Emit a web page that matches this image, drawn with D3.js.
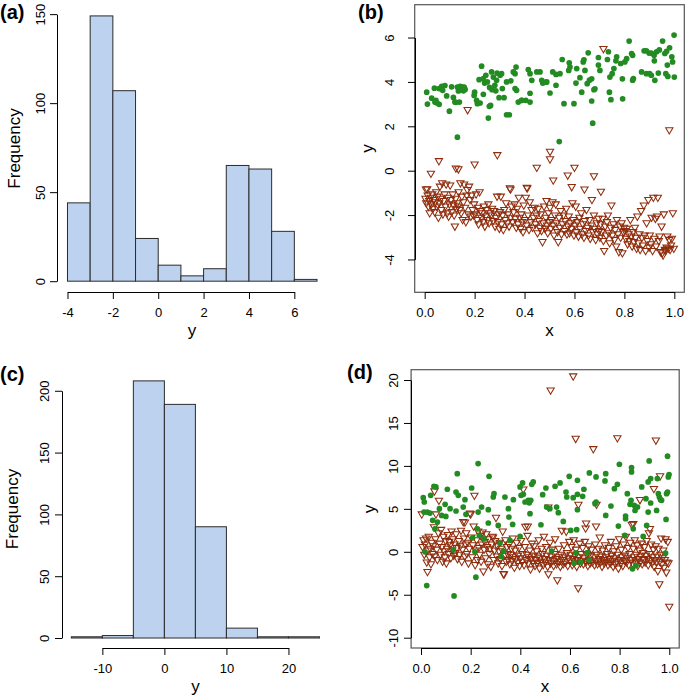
<!DOCTYPE html>
<html><head><meta charset="utf-8">
<script src="https://cdn.jsdelivr.net/npm/d3@7"></script>
<style>body{margin:0;background:#fff}svg text{font-family:"Liberation Sans",Arial,Helvetica,sans-serif}</style>
</head><body><svg id="chart" width="685" height="697"></svg>
<script>
// ---------- data ----------
const histABreaks = [-4,-3,-2,-1,0,1,2,3,4,5,6,7];
const histACounts = [44,149,107,24,9,3,7,65,63,28,1];
const histAXTicks = [-4,-2,0,2,4,6];
const histAYTicks = [0,50,100,150];

const histCBreaks = [-15,-10,-5,0,5,10,15,20,25];
const histCCounts = [1,2,208,189,90,8,1,1];
const histCXTicks = [-10,0,10,20];
const histCYTicks = [0,50,100,150,200];

const scatterXTicks = [0,0.2,0.4,0.6,0.8,1.0];
const scatterBYTicks = [-4,-2,0,2,4,6];
const scatterDYTicks = [-10,-5,0,5,10,15,20];

const bGreen = [[0.008,3.54],[0.011,3.0],[0.028,3.27],[0.039,3.72],[0.041,3.09],[0.045,3.17],[0.05,3.05],[0.058,2.99],[0.058,3.7],[0.068,3.8],[0.072,3.62],[0.081,3.84],[0.088,3.37],[0.099,2.68],[0.108,3.78],[0.115,3.3],[0.121,3.09],[0.125,3.08],[0.131,1.51],[0.131,3.77],[0.135,3.59],[0.139,3.09],[0.142,3.8],[0.148,3.65],[0.152,3.77],[0.155,3.6],[0.158,3.77],[0.162,3.66],[0.2,3.54],[0.198,3.39],[0.208,3.17],[0.211,3.02],[0.222,3.05],[0.218,4.1],[0.228,4.71],[0.235,3.44],[0.24,3.95],[0.251,4.0],[0.255,2.37],[0.264,2.94],[0.268,4.45],[0.275,4.22],[0.288,4.07],[0.281,3.85],[0.302,4.3],[0.308,4.37],[0.298,3.29],[0.318,3.29],[0.311,3.7],[0.328,4.0],[0.328,2.52],[0.339,2.52],[0.345,4.05],[0.362,4.37],[0.366,4.67],[0.362,3.7],[0.368,3.62],[0.375,3.09],[0.388,3.17],[0.405,3.17],[0.422,3.09],[0.422,4.37],[0.415,4.56],[0.429,4.07],[0.422,3.49],[0.449,4.45],[0.462,4.45],[0.473,3.95],[0.486,3.99],[0.502,3.5],[0.513,4.45],[0.526,3.85],[0.539,1.31],[0.542,4.37],[0.551,5.01],[0.558,3.02],[0.579,4.86],[0.582,4.67],[0.577,4.52],[0.598,3.02],[0.606,3.95],[0.609,4.6],[0.622,4.19],[0.629,3.54],[0.635,4.9],[0.638,5.0],[0.642,4.52],[0.651,3.92],[0.655,5.31],[0.66,4.08],[0.669,3.14],[0.669,4.14],[0.673,2.14],[0.678,3.65],[0.682,3.69],[0.696,5.1],[0.702,4.52],[0.696,4.76],[0.732,5.01],[0.736,5.36],[0.742,4.22],[0.74,3.54],[0.751,4.37],[0.746,3.2],[0.758,4.6],[0.766,4.95],[0.769,5.13],[0.785,4.83],[0.792,4.14],[0.793,3.24],[0.802,4.9],[0.809,5.05],[0.819,5.84],[0.829,5.28],[0.833,5.2],[0.833,4.08],[0.836,4.15],[0.869,4.45],[0.879,5.4],[0.888,5.4],[0.888,4.37],[0.901,4.37],[0.899,5.3],[0.908,5.3],[0.908,4.3],[0.919,5.2],[0.92,4.95],[0.922,4.07],[0.929,5.36],[0.936,4.4],[0.94,5.44],[0.953,5.84],[0.962,5.28],[0.966,4.37],[0.969,5.38],[0.972,4.76],[0.974,4.25],[0.981,5.54],[0.99,5.13],[0.993,4.9],[0.999,6.11],[1.0,4.22],[0.235,4.15],[0.245,4.3],[0.26,3.75],[0.27,3.65],[0.285,3.6],[0.29,4.4],[0.259,2.9],[0.355,4.45],[0.389,3.17],[0.469,4.07],[0.489,4.0],[0.526,4.34]];

const bRed = [[0.172,2.75],[0.98,1.84],[0.291,0.72],[0.502,0.87],[0.502,0.53],[0.057,0.45],[0.2,0.3],[0.125,0.12],[0.135,0.08],[0.449,0.15],[0.6,0.15],[0.025,-0.12],[0.573,-0.2],[0.678,-0.23],[0.515,-0.42],[0.589,-0.72],[0.716,5.5],[0.64,-0.83],[0.706,-0.93],[0.409,-0.75],[0.344,-0.83],[0.005,-0.83],
[0.003,-1.25],[0.006,-1.45],[0.01,-0.82],[0.012,-1.1],[0.015,-1.6],[0.018,-1.35],[0.02,-1.9],[0.024,-1.2],[0.027,-1.5],[0.03,-1.05],[0.033,-1.7],[0.036,-1.3],[0.04,-1.85],[0.043,-1.4],[0.046,-0.95],[0.048,-1.6],
[0.052,-1.15],[0.055,-2.1],[0.058,-1.45],[0.061,-0.7],[0.064,-1.25],[0.067,-1.75],[0.07,-0.55],[0.073,-1.95],[0.076,-1.35],[0.08,-1.05],[0.083,-1.6],[0.086,-0.6],[0.09,-1.9],[0.093,-1.2],[0.096,-2.05],[0.099,-1.5],
[0.102,-0.65],[0.105,-1.3],[0.108,-1.85],[0.112,-1.05],[0.115,-1.55],[0.118,-2.0],[0.121,-2.5],[0.124,-1.25],[0.127,-1.7],[0.13,-1.45],[0.133,-1.6],[0.136,-0.95],[0.14,-1.75],[0.143,-0.55],[0.146,-1.9],[0.149,-1.15],
[0.152,-2.2],[0.155,-1.4],[0.158,-0.6],[0.162,-1.65],[0.165,-2.3],[0.168,-1.1],[0.171,-0.85],[0.175,-1.95],[0.178,-0.7],[0.182,-1.3],[0.185,-2.05],[0.188,-1.1],[0.192,-1.75],[0.195,-2.0],[0.198,-1.5],
[0.202,-1.95],[0.206,-1.05],[0.21,-2.2],[0.213,-1.65],[0.216,-2.4],[0.22,-0.95],[0.223,-1.8],[0.227,-2.1],[0.23,-1.9],[0.234,-2.3],[0.237,-1.6],[0.241,-2.5],[0.244,-2.05],[0.247,-1.75],
[0.252,-2.2],[0.255,-1.5],[0.258,-2.35],[0.262,-1.9],[0.266,-2.0],[0.27,-1.7],[0.274,-2.25],[0.278,-1.8],[0.282,-2.5],[0.286,-2.1],[0.29,-1.15],[0.293,-2.3],[0.296,-1.95],[0.299,-2.6],
[0.302,-1.85],[0.305,-1.15],[0.308,-2.4],[0.312,-2.0],[0.315,-2.65],[0.319,-1.75],[0.322,-2.2],[0.326,-1.45],[0.33,-2.35],[0.334,-1.95],[0.338,-2.5],[0.341,-0.78],[0.344,-2.1],[0.348,-1.6],
[0.352,-2.3],[0.356,-1.85],[0.36,-1.5],[0.363,-2.15],[0.367,-2.55],[0.37,-1.7],[0.374,-2.4],[0.377,-1.2],[0.38,-2.1],[0.384,-2.6],[0.387,-1.95],[0.39,-2.3],[0.394,-2.75],[0.397,-1.55],
[0.402,-2.2],[0.405,-1.2],[0.408,-2.45],[0.411,-0.78],[0.414,-2.0],[0.418,-2.65],[0.421,-1.4],[0.425,-2.3],[0.428,-1.75],[0.432,-2.55],[0.436,-2.1],[0.44,-1.65],[0.444,-2.4],[0.448,-2.0],
[0.452,-2.8],[0.455,-1.7],[0.458,-2.25],[0.462,-2.55],[0.465,-1.95],[0.468,-2.7],[0.472,-3.2],[0.475,-2.35],[0.478,-1.6],[0.482,-2.6],[0.485,-2.1],[0.488,-1.35],[0.49,-2.45],[0.493,-2.8],[0.496,-1.9],[0.499,-2.3],
[0.502,-1.65],[0.505,-2.6],[0.508,-2.2],[0.512,-1.4],[0.515,-2.45],[0.518,-2.9],[0.522,-2.0],[0.525,-1.5],[0.528,-2.35],[0.532,-2.75],[0.535,-3.2],[0.538,-2.1],[0.542,-2.55],[0.545,-1.8],[0.548,-2.85],
[0.552,-2.4],[0.556,-2.0],[0.56,-2.7],[0.563,-2.25],[0.567,-1.7],[0.57,-2.85],[0.574,-2.5],[0.577,-2.05],[0.58,-2.8],[0.584,-2.35],[0.588,-2.6],[0.592,-1.45],[0.595,-2.2],[0.598,-2.9],
[0.602,-2.45],[0.605,-1.6],[0.608,-2.75],[0.612,-2.3],[0.616,-2.95],[0.62,-2.1],[0.623,-2.6],[0.627,-1.9],[0.63,-2.85],[0.634,-2.4],[0.638,-3.0],[0.641,-2.25],[0.645,-2.7],[0.648,-1.75],
[0.652,-2.55],[0.656,-2.9],[0.66,-2.2],[0.663,-3.05],[0.667,-2.45],[0.67,-1.3],[0.674,-2.75],[0.678,-2.0],[0.681,-2.6],[0.685,-3.1],[0.689,-2.35],[0.692,-2.85],[0.696,-2.15],[0.699,-2.7],
[0.702,-3.0],[0.705,-2.4],[0.709,-2.75],[0.712,-2.15],[0.716,-3.15],[0.719,-3.6],[0.723,-2.5],[0.727,-2.9],[0.73,-2.3],[0.734,-2.0],[0.738,-2.8],[0.741,-3.25],[0.745,-2.55],[0.748,-1.55],
[0.752,-2.9],[0.756,-2.4],[0.76,-3.1],[0.763,-2.65],[0.767,-3.4],[0.77,-2.2],[0.774,-2.85],[0.778,-3.65],[0.782,-2.5],[0.785,-3.0],[0.789,-2.35],[0.792,-3.7],[0.796,-2.75],[0.799,-2.55],
[0.802,-2.7],[0.806,-3.05],[0.81,-2.6],[0.813,-3.3],[0.817,-2.85],[0.82,-3.15],[0.824,-2.2],[0.828,-2.95],[0.831,-3.4],[0.835,-2.75],[0.838,-3.2],[0.842,-2.55],[0.845,-3.0],[0.849,-3.5],
[0.852,-2.05],[0.856,-3.25],[0.86,-2.85],[0.863,-3.55],[0.867,-1.8],[0.87,-3.0],[0.874,-3.35],[0.878,-1.55],[0.881,-2.9],[0.885,-3.6],[0.889,-2.35],[0.892,-3.15],[0.896,-1.3],[0.899,-3.45],
[0.902,-2.9],[0.906,-3.3],[0.909,-2.1],[0.913,-3.6],[0.916,-1.2],[0.92,-3.05],[0.924,-2.15],[0.927,-3.4],[0.931,-2.05],[0.934,-1.2],[0.938,-3.15],[0.941,-2.95],[0.945,-3.65],[0.949,-2.5],
[0.952,-3.7],[0.955,-3.8],[0.958,-1.95],[0.962,-3.55],[0.965,-3.6],[0.969,-3.45],[0.972,-2.95],[0.976,-3.5],[0.98,-3.1],[0.983,-3.55],[0.987,-3.35],[0.99,-3.05],[0.994,-1.9],[0.998,-3.5]];

const dGreen = [[0.009,6.3],[0.013,5.8],[0.012,4.63],[0.025,4.63],[0.036,4.51],[0.016,0.0],[0.023,-3.93],[0.039,6.58],[0.047,3.66],[0.052,7.63],[0.06,7.55],[0.056,2.68],[0.066,3.46],[0.074,5.02],[0.083,4.24],[0.097,5.53],[0.1,4.12],[0.106,7.28],[0.117,5.02],[0.13,0.23],[0.133,-5.14],[0.141,6.96],[0.146,9.1],[0.15,6.58],[0.141,4.75],[0.17,5.21],[0.177,6.07],[0.181,4.36],[0.204,7.43],[0.208,1.63],[0.217,0.0],[0.221,-2.96],[0.227,2.68],[0.23,4.63],[0.23,10.27],[0.235,1.91],[0.244,5.21],[0.254,1.52],[0.271,4.9],[0.274,8.79],[0.271,3.35],[0.291,6.38],[0.294,6.77],[0.311,3.07],[0.318,1.01],[0.323,-0.54],[0.332,0.08],[0.338,6.38],[0.352,5.02],[0.354,4.05],[0.358,1.32],[0.369,3.19],[0.372,6.07],[0.399,1.79],[0.399,7.55],[0.403,6.58],[0.409,8.02],[0.412,6.69],[0.419,5.8],[0.432,5.99],[0.436,5.7],[0.439,4.44],[0.442,5.99],[0.446,7.86],[0.452,8.13],[0.483,3.15],[0.49,6.65],[0.503,7.43],[0.506,5.21],[0.519,5.02],[0.526,0.08],[0.54,7.63],[0.546,5.21],[0.553,4.55],[0.56,8.02],[0.573,3.54],[0.584,6.96],[0.587,6.38],[0.597,8.79],[0.603,2.49],[0.613,6.3],[0.616,-1.32],[0.624,-0.12],[0.627,2.57],[0.63,8.33],[0.63,6.69],[0.63,4.9],[0.643,-1.21],[0.651,6.46],[0.656,7.28],[0.67,-0.08],[0.678,9.18],[0.678,-0.93],[0.701,5.6],[0.705,8.72],[0.705,5.8],[0.741,8.25],[0.744,9.1],[0.744,4.24],[0.765,5.33],[0.779,7.35],[0.791,7.86],[0.795,3.0],[0.799,10.19],[0.821,1.91],[0.824,4.16],[0.824,3.85],[0.831,6.77],[0.842,5.53],[0.846,5.99],[0.848,9.8],[0.848,9.3],[0.852,-1.98],[0.855,2.68],[0.859,5.41],[0.862,4.82],[0.866,-1.6],[0.872,5.21],[0.889,7.55],[0.895,1.79],[0.906,6.19],[0.909,3.07],[0.915,4.63],[0.915,8.13],[0.919,10.58],[0.925,5.68],[0.925,8.52],[0.949,4.82],[0.952,8.52],[0.956,6.77],[0.96,6.38],[0.965,6.07],[0.969,5.99],[0.985,-0.16],[0.987,3.77],[0.989,6.77],[0.993,6.96],[0.993,11.13],[0.996,8.72],[0.999,8.99]];

const dRed = [[0.613,20.47],[0.522,18.83],[0.623,13.2],[0.791,13.27],[0.946,13.0],[0.694,12.0],[0.963,8.83],[0.938,7.36],[0.054,7.08],[0.072,6.0],[0.215,6.58],[0.412,7.3],[0.177,3.46],[0.43,2.99],[0.882,6.07],[0.634,5.53],[0.707,5.53],[0.513,5.21],[0.665,3.34],[0.705,2.99],[0.855,3.27],[0.922,2.69],[0.663,2.76],[0.42,2.96],
[0.003,4.4],[0.006,0.6],[0.01,1.4],[0.013,-0.3],[0.016,0.9],[0.02,1.6],[0.023,-1.2],[0.026,-2.3],[0.028,0.2],[0.031,1.8],[0.034,-0.6],[0.037,0.4],[0.04,-1.4],[0.043,1.1],[0.046,-0.2],[0.049,0.7],
[0.052,2.9],[0.055,-0.5],[0.058,1.5],[0.06,4.4],[0.063,0.3],[0.066,-0.9],[0.07,2.2],[0.075,1.0],[0.078,-0.3],[0.081,2.6],[0.084,0.6],[0.087,-1.1],[0.09,1.8],[0.093,0.1],[0.096,-0.6],[0.099,1.3],
[0.102,-1.3],[0.105,0.4],[0.108,2.0],[0.111,-0.2],[0.114,1.2],[0.117,0.8],[0.12,-0.7],[0.123,2.4],[0.126,0.2],[0.129,1.5],[0.132,-0.4],[0.135,0.9],[0.138,-0.1],[0.141,2.1],[0.144,0.5],[0.147,-0.8],
[0.152,1.3],[0.155,-0.3],[0.158,0.7],[0.161,2.5],[0.164,-1.1],[0.167,0.3],[0.17,3.5],[0.173,1.6],[0.176,-0.5],[0.179,0.9],[0.182,2.2],[0.185,-0.2],[0.188,1.1],[0.191,-1.3],[0.194,0.4],[0.197,4.5],
[0.2,4.4],[0.203,1.7],[0.206,-0.6],[0.209,0.8],[0.212,3.0],[0.218,-1.5],[0.221,0.2],[0.224,1.4],[0.227,-0.9],[0.23,2.4],[0.233,0.5],[0.236,-0.3],[0.239,1.9],[0.242,-1.1],[0.245,0.9],[0.248,2.3],
[0.251,-2.25],[0.254,0.3],[0.257,1.2],[0.26,-0.7],[0.263,2.1],[0.266,0.6],[0.269,-1.4],[0.272,1.5],[0.275,-0.2],[0.278,0.4],[0.281,-1.7],[0.284,0.9],[0.287,1.8],[0.29,1.7],[0.293,-0.9],[0.296,0.2],[0.299,1.3],
[0.302,4.0],[0.305,-0.5],[0.308,0.7],[0.311,-1.3],[0.314,0.1],[0.317,1.1],[0.32,-0.8],[0.323,0.4],[0.326,-1.6],[0.329,2.4],[0.332,-2.55],[0.334,-2.6],[0.337,-0.4],[0.34,1.4],[0.343,-1.1],[0.346,0.6],[0.349,-0.2],
[0.352,-0.9],[0.355,0.9],[0.358,-1.4],[0.361,-0.3],[0.364,0.4],[0.367,-1.0],[0.37,1.6],[0.373,-0.6],[0.376,-1.8],[0.379,0.2],[0.382,-0.8],[0.385,1.1],[0.388,-1.2],[0.391,-0.4],[0.394,0.5],[0.397,-1.6],
[0.4,-0.7],[0.403,1.3],[0.406,-1.1],[0.409,-0.2],[0.415,-1.5],[0.418,0.6],[0.423,-0.9],[0.426,-0.3],[0.429,1.9],[0.432,-1.3],[0.435,-0.6],[0.438,0.2],[0.441,-2.0],[0.444,-0.8],[0.447,1.0],
[0.45,-1.2],[0.453,-0.4],[0.456,0.7],[0.459,-1.6],[0.462,-0.9],[0.465,0.1],[0.468,-1.3],[0.471,-0.5],[0.474,1.4],[0.477,-1.9],[0.48,-0.7],[0.483,-1.1],[0.486,0.4],[0.489,-0.2],[0.492,-1.5],[0.495,1.8],[0.498,-0.8],
[0.501,-1.2],[0.504,0.6],[0.507,-0.4],[0.51,-1.7],[0.513,-2.57],[0.516,-0.9],[0.519,1.1],[0.522,-1.3],[0.525,-0.5],[0.528,0.3],[0.531,-1.0],[0.534,-1.6],[0.537,-0.2],[0.54,1.5],[0.543,-0.8],[0.546,-1.4],[0.549,-3.27],
[0.552,-0.6],[0.555,0.4],[0.558,-1.1],[0.561,-1.7],[0.564,-0.3],[0.567,2.5],[0.57,-0.9],[0.573,-1.4],[0.576,0.8],[0.579,-0.5],[0.582,-1.2],[0.585,2.4],[0.588,-0.1],[0.591,-1.6],[0.594,-0.7],[0.597,1.2],
[0.6,-1.0],[0.603,-0.3],[0.606,0.6],[0.609,-1.5],[0.612,-0.8],[0.615,1.4],[0.618,-1.2],[0.621,-0.4],[0.624,0.3],[0.627,-1.7],[0.63,-0.9],[0.633,-4.2],[0.636,-0.6],[0.639,1.0],[0.642,-1.3],[0.645,-0.2],[0.648,-1.0],
[0.651,0.5],[0.654,-1.4],[0.657,-0.7],[0.66,1.2],[0.666,-1.1],[0.669,-0.3],[0.672,-1.6],[0.675,0.7],[0.678,-0.9],[0.681,-1.3],[0.684,-0.4],[0.687,0.3],[0.69,-1.2],[0.696,-0.6],[0.699,-1.5],
[0.702,0.9],[0.705,-1.0],[0.708,-0.3],[0.711,-1.4],[0.714,0.4],[0.717,-0.8],[0.72,1.7],[0.723,-1.2],[0.726,-0.5],[0.729,-1.7],[0.732,0.2],[0.735,-0.9],[0.738,-1.3],[0.741,0.8],[0.744,-0.6],[0.747,-1.1],
[0.75,-0.2],[0.753,-1.5],[0.756,0.5],[0.759,-0.8],[0.762,-1.3],[0.765,1.2],[0.768,-0.4],[0.771,-1.0],[0.774,-1.7],[0.777,0.1],[0.78,-0.7],[0.783,-1.4],[0.786,0.7],[0.789,-1.1],[0.792,-0.3],[0.795,-1.9],[0.798,1.5],
[0.801,-0.9],[0.804,-1.3],[0.807,0.3],[0.81,-0.6],[0.813,-1.6],[0.816,0.9],[0.819,-1.0],[0.822,-0.4],[0.825,1.8],[0.828,-1.2],[0.831,-0.7],[0.834,0.5],[0.837,-1.5],[0.84,-0.2],[0.843,1.1],[0.846,-0.9],[0.849,3.2],
[0.852,-1.3],[0.855,0.4],[0.858,-0.6],[0.861,1.4],[0.864,-1.1],[0.867,-0.3],[0.87,0.8],[0.873,-1.6],[0.876,-0.8],[0.879,0.2],[0.882,-1.2],[0.885,-0.5],[0.888,1.0],[0.891,-1.4],[0.894,-0.1],[0.897,-0.9],
[0.9,0.6],[0.903,-1.2],[0.906,-0.4],[0.909,1.3],[0.912,-0.8],[0.915,-1.5],[0.918,2.2],[0.921,-0.2],[0.924,-1.0],[0.927,0.9],[0.93,-1.3],[0.933,-0.6],[0.936,0.3],[0.939,-1.7],[0.942,-0.9],[0.945,0.7],[0.948,-1.2],
[0.951,-0.5],[0.954,-2.2],[0.957,0.4],[0.96,-3.74],[0.961,-1.1],[0.964,-0.3],[0.967,1.6],[0.97,-1.4],[0.973,-0.7],[0.976,0.2],[0.979,-1.8],[0.982,-0.9],[0.985,1.5],[0.988,-2.37],[0.991,-1.2],[0.994,1.2],[0.997,-1.3],[1.0,-6.34]];

// ---------- styles ----------
const FONT = '"Liberation Sans",Arial,Helvetica,sans-serif';
const barFill = '#BCD2EE', barStroke = '#2b2b2b';
const greenCol = '#228B22', redCol = '#8F2C0C';

const svg = d3.select('#chart');

function styleAxis(g){
  g.attr('font-family', FONT).attr('font-size', 13);
  g.selectAll('line').attr('stroke','#000');
  g.select('.domain').attr('stroke','#000');
  g.selectAll('text').attr('fill','#000');
}
function axisB(scale, ticks, y, fmt){
  const ax = d3.axisBottom(scale).tickValues(ticks).tickSize(7).tickSizeOuter(0).tickPadding(8.5).tickFormat(fmt);
  const g = svg.append('g').attr('transform', `translate(0,${Math.round(y)})`).call(ax);
  g.select('.domain').attr('d', `M${scale(ticks[0])+0.5},0.5H${scale(ticks[ticks.length-1])+0.5}`);
  styleAxis(g);
}
function axisL(scale, ticks, x, fmt, labOff){
  const ax = d3.axisLeft(scale).tickValues(ticks).tickSize(7).tickSizeOuter(0).tickFormat(fmt);
  const g = svg.append('g').attr('transform', `translate(${Math.round(x)},0)`).call(ax);
  g.select('.domain').attr('d', `M0.5,${scale(ticks[0])+0.5}V${scale(ticks[ticks.length-1])+0.5}`);
  g.selectAll('.tick text').attr('x', null).attr('dy', null).attr('text-anchor','middle')
    .attr('transform', `translate(${-labOff},0) rotate(-90)`);
  styleAxis(g);
}
function label(txt, x, y, size, rot, bold, anchor){
  svg.append('text').attr('x', 0).attr('y', 0)
    .attr('transform', `translate(${x},${y})` + (rot ? ` rotate(${rot})` : ''))
    .attr('text-anchor', anchor || 'middle').attr('font-family', FONT)
    .attr('font-size', size).attr('font-weight', bold ? 'bold' : 'normal')
    .attr('fill', '#000').text(txt);
}
const intFmt = d => String(d);
const decFmt = d => d.toFixed(1);

function histogram(breaks, counts, xs, ys){
  const bins = counts.map((c,i) => ({x0: breaks[i], x1: breaks[i+1], c}));
  svg.append('g').selectAll('rect').data(bins).join('rect')
    .attr('x', d => xs(d.x0)).attr('width', d => xs(d.x1) - xs(d.x0))
    .attr('y', d => ys(d.c)).attr('height', d => ys(0) - ys(d.c))
    .attr('fill', barFill).attr('stroke', barStroke).attr('stroke-width', 1);
}
const triSym = d3.symbol().type(d3.symbolTriangle).size(23);
function scatter(xs, ys, red, green){
  svg.append('g').selectAll('path').data(red).join('path')
    .attr('d', triSym)
    .attr('transform', d => `translate(${xs(d[0])},${ys(d[1])}) rotate(180)`)
    .attr('fill', 'none').attr('stroke', redCol).attr('stroke-width', 1.05);
  svg.append('g').selectAll('circle').data(green).join('circle')
    .attr('cx', d => xs(d[0])).attr('cy', d => ys(d[1])).attr('r', 2.85)
    .attr('fill', greenCol);
}
function box(xs, ys){
  const [x0,x1] = xs.range(), [y0,y1] = ys.range();
  svg.append('rect').attr('x', x0).attr('y', y1).attr('width', x1-x0).attr('height', y0-y1)
    .attr('fill','none').attr('stroke','#555').attr('stroke-width',1.2);
}

// ---------- panel (a) ----------
{
  const xs = d3.scaleLinear().domain([-4.44, 7.44]).range([57.5, 327]);
  const ys = d3.scaleLinear().domain([-5.96, 154.96]).range([291.8, 5.3]);
  histogram(histABreaks, histACounts, xs, ys);
  axisB(xs, histAXTicks, 291.8, intFmt);
  axisL(ys, histAYTicks, 57.3, intFmt, 12);
  label('Frequency', 20, 148.5, 17, -90);
  label('y', 192, 336, 17);
  label('(a)', 0, 19, 20, 0, true, 'start');
}
// ---------- panel (b) ----------
{
  const xs = d3.scaleLinear().domain([-0.04, 1.04]).range([414.7, 684.3]);
  const ys = d3.scaleLinear().domain([-5.48, 7.48]).range([292.3, 4.7]);
  scatter(xs, ys, bRed, bGreen);
  box(xs, ys);
  axisB(xs, scatterXTicks, 292.3, decFmt);
  axisL(ys, scatterBYTicks, 414.7, intFmt, 21);
  label('y', 373, 148.5, 17, -90);
  label('x', 549.5, 336, 17);
  label('(b)', 358, 19.3, 20, 0, true, 'start');
}
// ---------- panel (c) ----------
{
  const xs = d3.scaleLinear().domain([-16.6, 26.6]).range([61.4, 329.4]);
  const ys = d3.scaleLinear().domain([-8.32, 216.32]).range([648.3, 370.6]);
  histogram(histCBreaks, histCCounts, xs, ys);
  axisB(xs, histCXTicks, 648.3, intFmt);
  axisL(ys, histCYTicks, 62, intFmt, 13);
  label('Frequency', 18, 509, 17, -90);
  label('y', 195.4, 692, 17);
  label('(c)', 0, 381, 20, 0, true, 'start');
}
// ---------- panel (d) ----------
{
  const xs = d3.scaleLinear().domain([-0.04, 1.04]).range([411.1, 679.2]);
  const ys = d3.scaleLinear().domain([-11.2, 21.2]).range([648, 369.7]);
  scatter(xs, ys, dRed, dGreen);
  box(xs, ys);
  axisB(xs, scatterXTicks, 648, decFmt);
  axisL(ys, scatterDYTicks, 411.1, intFmt, 13);
  label('y', 375, 509, 17, -90);
  label('x', 545, 692, 17);
  label('(d)', 347, 379, 20, 0, true, 'start');
}
</script></body></html>
